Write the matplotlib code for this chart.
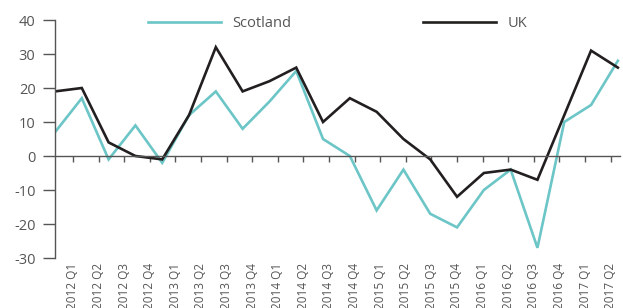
"""Scotland vs UK quarterly balance, 2012 Q1 - 2017 Q2."""

import matplotlib.pyplot as plt
import numpy as np

plt.rcParams["font.family"] = ["Open Sans", "DejaVu Sans"]

quarters = [
    "2012 Q1", "2012 Q2", "2012 Q3", "2012 Q4",
    "2013 Q1", "2013 Q2", "2013 Q3", "2013 Q4",
    "2014 Q1", "2014 Q2", "2014 Q3", "2014 Q4",
    "2015 Q1", "2015 Q2", "2015 Q3", "2015 Q4",
    "2016 Q1", "2016 Q2", "2016 Q3", "2016 Q4",
    "2017 Q1", "2017 Q2",
]
scotland = [7, 17, -1, 9, -2, 12, 19, 8, 16, 25, 5, 0,
            -16, -4, -17, -21, -10, -4, -27, 10, 15, 28]
uk = [19, 20, 4, 0, -1, 12, 32, 19, 22, 26, 10, 17,
      13, 5, -1, -12, -5, -4, -7, 12, 31, 26]

TEAL = "#6cc5c6"
BLACK = "#231f20"
GREY = "#555555"

fig = plt.figure(figsize=(6.23, 3.08), dpi=100)
ax = fig.add_axes([55 / 623, 1 - 258 / 308, 565 / 623, 238 / 308])

x = np.arange(len(quarters))
ax.plot(x, scotland, color=TEAL, lw=1.9, label="Scotland", solid_joinstyle="miter")
ax.plot(x, uk, color=BLACK, lw=1.9, label="UK", solid_joinstyle="miter")

ax.set_xlim(0, 21.08)
ax.set_ylim(-30, 40)
ax.set_yticks([-30, -20, -10, 0, 10, 20, 30, 40])
ax.set_yticklabels(["-30", "-20", "-10", "0", "10", "20", "30", "40"])

# category ticks sit slightly off the data points, as in the source
step = 25.6 / 26.8
ax.set_xticks(0.67 + step * np.arange(len(quarters)))
ax.set_xticklabels(quarters)

for s in ["top", "right"]:
    ax.spines[s].set_visible(False)
ax.spines["bottom"].set_position(("data", 0))
for s in ["left", "bottom"]:
    ax.spines[s].set_color(GREY)
    ax.spines[s].set_linewidth(1.0)

ax.tick_params(axis="y", direction="out", length=9, width=1.0, color=GREY,
               labelcolor=GREY, labelsize=10.5, pad=5)
ax.tick_params(axis="x", direction="out", length=4, width=1.0, color=GREY,
               labelcolor=GREY, labelsize=8.5, pad=73, labelrotation=90)

ax.legend(loc="upper center", bbox_to_anchor=(0.5, 1.07), ncol=2, frameon=False,
          handlelength=5, columnspacing=9, fontsize=10.5, labelcolor=GREY,
          handletextpad=0.8)

fig.savefig("out.png", dpi=100)
